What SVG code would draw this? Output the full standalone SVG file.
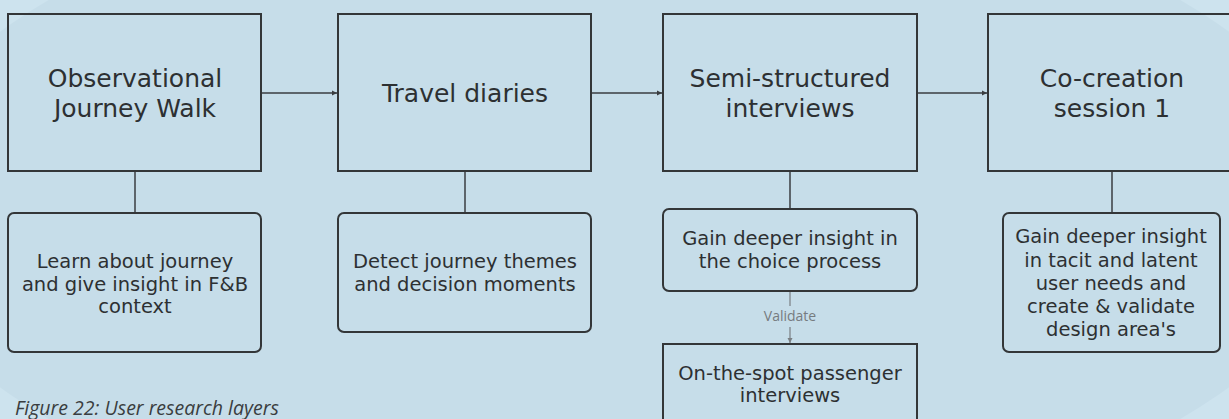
<svg xmlns="http://www.w3.org/2000/svg" width="1229" height="419" viewBox="0 0 1229 419">
  <style>
    .box { fill: none; stroke: #333638; stroke-width: 2; }
    .link { fill: none; stroke: #3a3d40; stroke-width: 1.5; }
    .soft { fill: none; stroke: #7a7f83; stroke-width: 1.2; }
    .title { font-family: "DejaVu Sans", sans-serif; font-size: 25px; fill: #2d3032; text-anchor: middle; }
    .body { font-family: "DejaVu Sans", sans-serif; font-size: 19.5px; fill: #2d3032; text-anchor: middle; }
    .tag { font-family: "Open Sans", "Liberation Sans", sans-serif; font-size: 14px; fill: #767b80; text-anchor: middle; }
    .caption { font-family: "Open Sans", "Liberation Sans", sans-serif; font-style: italic; font-size: 19.5px; fill: #3a3d40; }
  </style>
  <defs>
    <marker id="arrow" markerWidth="6" markerHeight="6" refX="5" refY="3" orient="auto" markerUnits="userSpaceOnUse">
      <path d="M0,0.5 L5,3 L0,5.5 Z" fill="#3a3d40"/>
    </marker>
    <marker id="arrow-soft" markerWidth="6" markerHeight="6" refX="5" refY="3" orient="auto" markerUnits="userSpaceOnUse">
      <path d="M0,0.5 L5,3 L0,5.5 Z" fill="#7a7f83"/>
    </marker>
  </defs>

  <!-- backdrop -->
  <rect x="0" y="0" width="1229" height="419" fill="#cde3ee"/>
  <ellipse cx="614.5" cy="209.5" rx="725" ry="335" fill="#c6dde9"/>

  <!-- connectors -->
  <g id="connectors">
    <line class="link" x1="261" y1="93" x2="337" y2="93" marker-end="url(#arrow)"/>
    <line class="link" x1="591" y1="93" x2="662" y2="93" marker-end="url(#arrow)"/>
    <line class="link" x1="917" y1="93" x2="987" y2="93" marker-end="url(#arrow)"/>
    <line class="link" x1="135" y1="171" x2="135" y2="213"/>
    <line class="link" x1="465" y1="171" x2="465" y2="213"/>
    <line class="link" x1="790" y1="171" x2="790" y2="209"/>
    <line class="link" x1="1112" y1="171" x2="1112" y2="213"/>
    <line class="soft" x1="790" y1="291" x2="790" y2="306"/>
    <text class="tag" x="790" y="321">Validate</text>
    <line class="soft" x1="790" y1="327" x2="790" y2="343" marker-end="url(#arrow-soft)"/>
  </g>

  <!-- stages -->
  <g id="observational-walk">
    <rect class="box" x="8" y="14" width="253" height="157"/>
    <text class="title" x="135" y="87">Observational</text>
    <text class="title" x="135" y="117">Journey Walk</text>
  </g>
  <g id="travel-diaries">
    <rect class="box" x="338" y="14" width="253" height="157"/>
    <text class="title" x="465" y="102">Travel diaries</text>
  </g>
  <g id="semi-structured">
    <rect class="box" x="663" y="14" width="254" height="157"/>
    <text class="title" x="790" y="87">Semi-structured</text>
    <text class="title" x="790" y="117">interviews</text>
  </g>
  <g id="co-creation">
    <rect class="box" x="988" y="14" width="248" height="157"/>
    <text class="title" x="1112" y="87">Co-creation</text>
    <text class="title" x="1112" y="117">session 1</text>
  </g>

  <!-- outcomes -->
  <g id="walk-outcome">
    <rect class="box" x="8" y="213" width="253" height="139" rx="6"/>
    <text class="body" x="135" y="268">Learn about journey</text>
    <text class="body" x="135" y="291">and give insight in F&amp;B</text>
    <text class="body" x="135" y="313">context</text>
  </g>
  <g id="diaries-outcome">
    <rect class="box" x="338" y="213" width="253" height="119" rx="6"/>
    <text class="body" x="465" y="268">Detect journey themes</text>
    <text class="body" x="465" y="291">and decision moments</text>
  </g>
  <g id="interviews-outcome">
    <rect class="box" x="663" y="209" width="254" height="82" rx="6"/>
    <text class="body" x="790" y="245">Gain deeper insight in</text>
    <text class="body" x="790" y="268">the choice process</text>
  </g>
  <g id="on-the-spot">
    <rect class="box" x="663" y="344" width="254" height="90"/>
    <text class="body" x="790" y="380">On-the-spot passenger</text>
    <text class="body" x="790" y="402">interviews</text>
  </g>
  <g id="co-creation-outcome">
    <rect class="box" x="1003" y="213" width="217" height="139" rx="6"/>
    <text class="body" x="1111" y="243">Gain deeper insight</text>
    <text class="body" x="1111" y="267">in tacit and latent</text>
    <text class="body" x="1111" y="290">user needs and</text>
    <text class="body" x="1111" y="313">create &amp; validate</text>
    <text class="body" x="1111" y="336">design area's</text>
  </g>

  <text class="caption" x="15" y="415">Figure 22: User research layers</text>
</svg>
